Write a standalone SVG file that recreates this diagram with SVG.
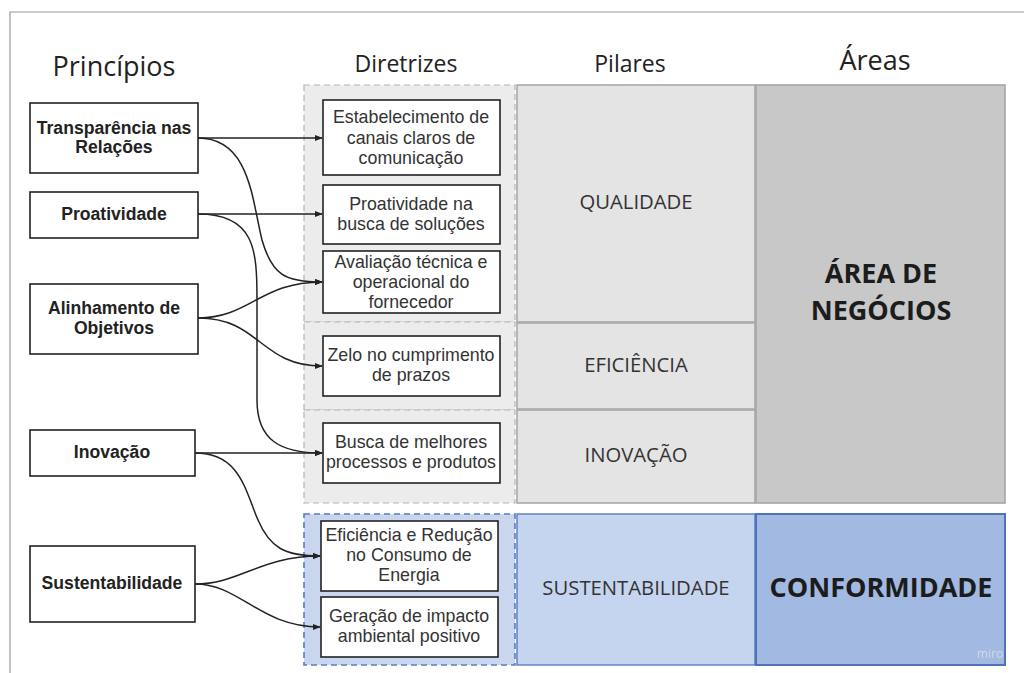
<svg xmlns="http://www.w3.org/2000/svg" width="1024" height="673" viewBox="0 0 1024 673">
<style>
.hdr{font-family:"Open Sans","Liberation Sans",sans-serif;fill:#222;text-anchor:middle}
.pbox{fill:#fff;stroke:#222;stroke-width:1.6}
.ptxt{font-family:"Liberation Sans",Arial,sans-serif;font-size:17.6px;font-weight:bold;fill:#222;text-anchor:middle}
.dbox{fill:#fff;stroke:#222;stroke-width:1.6}
.dtxt{font-family:"Liberation Sans",Arial,sans-serif;font-size:17.8px;fill:#333;text-anchor:middle}
.grp{fill:#ececec;stroke:#b4b4b4;stroke-width:1.2;stroke-dasharray:6 4}
.grpb{fill:#c9d6ee;stroke:#5a7cbf;stroke-width:1.6;stroke-dasharray:6 4}
.pil{fill:#e4e4e4;stroke:#a8a8a8;stroke-width:1.6}
.piltxt{font-family:"Open Sans","Liberation Sans",sans-serif;font-size:20.3px;fill:#333;text-anchor:middle}
.area{font-family:"Open Sans","Liberation Sans",sans-serif;font-size:27px;font-weight:bold;fill:#1c1c1c;text-anchor:middle}
.conn{fill:none;stroke:#222;stroke-width:1.5;marker-end:url(#arr)}
</style>
<defs>
<marker id="arr" viewBox="0 0 10 10" refX="9" refY="5" markerWidth="8" markerHeight="8" markerUnits="userSpaceOnUse" orient="auto">
<path d="M0,1 L10,5 L0,9 z" fill="#222"/>
</marker>
</defs>
<rect x="0" y="0" width="1024" height="673" fill="#fff"/>
<path d="M10,673 V12 H1024" fill="none" stroke="#999" stroke-width="1.2"/>

<g id="headers">
<text class="hdr" x="114" y="76" style="font-size:27px">Princípios</text>
<text class="hdr" x="406" y="72" style="font-size:23px">Diretrizes</text>
<text class="hdr" x="630" y="72" style="font-size:23px">Pilares</text>
<text class="hdr" x="875" y="70" style="font-size:27px">Áreas</text>
</g>

<g id="groups">
<rect class="grp" x="304" y="85" width="211" height="237"/>
<rect class="grp" x="304" y="322" width="211" height="88"/>
<rect class="grp" x="304" y="410" width="211" height="93"/>
<rect class="grpb" x="304" y="514" width="211" height="151"/>
</g>

<g id="pilar-qualidade"><rect class="pil" x="517" y="85" width="238" height="237"/><text class="piltxt" x="636" y="209">QUALIDADE</text></g>
<g id="pilar-eficiencia"><rect class="pil" x="517" y="323" width="238" height="86"/><text class="piltxt" x="636" y="372">EFICIÊNCIA</text></g>
<g id="pilar-inovacao"><rect class="pil" x="517" y="410" width="238" height="93"/><text class="piltxt" x="636" y="462">INOVAÇÃO</text></g>
<g id="pilar-sustentabilidade"><rect x="517" y="514" width="238" height="151" fill="#c6d5ef" stroke="#5a7cbf" stroke-width="1.4"/><text class="piltxt" x="636" y="595">SUSTENTABILIDADE</text></g>

<g id="area-negocios"><rect x="756" y="85" width="249" height="418" fill="#c8c8c8" stroke="#a6a6a6" stroke-width="1.6"/><text class="area" x="881" y="283">ÁREA DE</text><text class="area" x="881" y="320">NEGÓCIOS</text></g>
<g id="area-conformidade"><rect x="756" y="514" width="249" height="151" fill="#a2b9e1" stroke="#4f73b8" stroke-width="2"/><text class="area" x="881" y="597">CONFORMIDADE</text></g>

<g id="p-transparencia"><rect class="pbox" x="30" y="103" width="168" height="70"/><text class="ptxt" x="114" y="134">Transparência nas</text><text class="ptxt" x="114" y="153">Relações</text></g>
<g id="p-proatividade"><rect class="pbox" x="30" y="192" width="168" height="46"/><text class="ptxt" x="114" y="220">Proatividade</text></g>
<g id="p-alinhamento"><rect class="pbox" x="30" y="284" width="168" height="70"/><text class="ptxt" x="114" y="314">Alinhamento de</text><text class="ptxt" x="114" y="334">Objetivos</text></g>
<g id="p-inovacao"><rect class="pbox" x="30" y="430" width="165" height="46"/><text class="ptxt" x="112" y="458">Inovação</text></g>
<g id="p-sustentabilidade"><rect class="pbox" x="30" y="546" width="165" height="76"/><text class="ptxt" x="112" y="589">Sustentabilidade</text></g>

<g id="d-estabelecimento"><rect class="dbox" x="323" y="100" width="177" height="75"/><text class="dtxt" x="411" y="123">Estabelecimento de</text><text class="dtxt" x="411" y="144">canais claros de</text><text class="dtxt" x="411" y="164">comunicação</text></g>
<g id="d-proatividade"><rect class="dbox" x="323" y="185" width="177" height="59"/><text class="dtxt" x="411" y="210">Proatividade na</text><text class="dtxt" x="411" y="230">busca de soluções</text></g>
<g id="d-avaliacao"><rect class="dbox" x="323" y="251" width="177" height="62"/><text class="dtxt" x="411" y="268">Avaliação técnica e</text><text class="dtxt" x="411" y="288">operacional do</text><text class="dtxt" x="411" y="308">fornecedor</text></g>
<g id="d-zelo"><rect class="dbox" x="323" y="336" width="177" height="60"/><text class="dtxt" x="411" y="361">Zelo no cumprimento</text><text class="dtxt" x="411" y="381">de prazos</text></g>
<g id="d-busca"><rect class="dbox" x="323" y="423" width="177" height="60"/><text class="dtxt" x="411" y="448">Busca de melhores</text><text class="dtxt" x="411" y="468">processos e produtos</text></g>
<g id="d-eficiencia"><rect class="dbox" x="321" y="521" width="177" height="70"/><text class="dtxt" x="409" y="541">Eficiência e Redução</text><text class="dtxt" x="409" y="561">no Consumo de</text><text class="dtxt" x="409" y="581">Energia</text></g>
<g id="d-geracao"><rect class="dbox" x="321" y="597" width="177" height="60"/><text class="dtxt" x="409" y="622">Geração de impacto</text><text class="dtxt" x="409" y="642">ambiental positivo</text></g>

<g id="connectors">
<path class="conn" d="M198,138 H322"/>
<path class="conn" d="M198,138 C250,138 252,200 262,240 C272,275 285,282 322,282"/>
<path class="conn" d="M198,214 H322"/>
<path class="conn" d="M198,214 C255,214 257,250 257,300 V400 C257,440 280,453 322,453"/>
<path class="conn" d="M198,318 C250,318 260,282 322,282"/>
<path class="conn" d="M198,318 C260,318 260,366 322,366"/>
<path class="conn" d="M195,453 H322"/>
<path class="conn" d="M195,453 C240,453 245,490 258,520 C270,548 285,556 320,556"/>
<path class="conn" d="M195,584 C240,584 260,556 320,556"/>
<path class="conn" d="M195,584 C240,584 260,627 320,627"/>
</g>

<text x="990" y="658" font-family="Open Sans, sans-serif" font-size="12" fill="#d4dbe8" text-anchor="middle">miro</text>
</svg>
